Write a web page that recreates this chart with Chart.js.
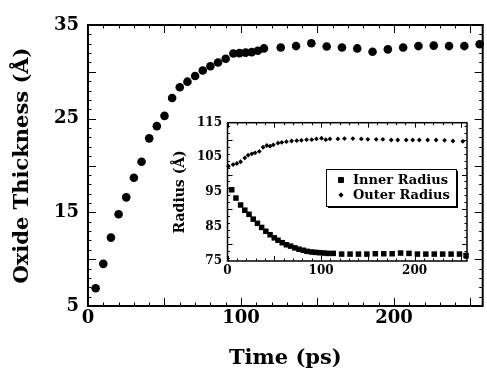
<!DOCTYPE html>
<html>
<head>
<meta charset="utf-8">
<script src="https://cdn.jsdelivr.net/npm/chart.js@4/dist/chart.umd.min.js"></script>
<style>
  body { margin: 0; background: #fff; }
  #wrap { position: relative; width: 487px; height: 371px; }
  #main { position: absolute; left: 0; top: 0; }
  #inset { position: absolute; left: 160px; top: 110px; }
</style>
</head>
<body>
<div id="wrap">
  <canvas id="main" width="487" height="371"></canvas>
  <canvas id="inset" width="315" height="175"></canvas>
</div>
<script>
// main panel: oxide thickness vs time
const thickTime = [5, 10, 15, 20, 25, 30, 35, 40, 45, 50, 55, 60, 65, 70, 75, 80, 85, 90, 95, 99, 103, 107, 111, 115,
    126, 136, 146, 156, 166, 176, 186, 196, 206, 216, 226, 236, 246, 256];
const thickness = [6.9, 9.5, 12.3, 14.8, 16.6, 18.7, 20.4, 22.9, 24.2, 25.3, 27.2, 28.35, 28.95, 29.55, 30.15, 30.6, 31.0, 31.4, 31.95, 32.0, 32.05, 32.1, 32.25, 32.5,
    32.6, 32.75, 33.05, 32.7, 32.6, 32.5, 32.15, 32.4, 32.6, 32.75, 32.8, 32.75, 32.75, 32.95];

// inset: inner and outer radius vs time
const innerTime = [4.5, 9, 14, 18.5, 23, 27.5, 32, 36.5, 41, 45.5, 50, 54, 58.5, 63, 67.5, 72, 76.5, 81, 85, 90, 94, 98.5, 103, 107.5, 113,
    122, 131, 140, 149, 158, 167, 176, 185, 194, 203, 212, 221, 230, 239, 248, 255];
const innerRadius = [95.6, 93.2, 91.2, 89.7, 88.5, 87.1, 85.9, 84.7, 83.6, 82.6, 81.7, 81.0, 80.3, 79.7, 79.3, 78.8, 78.4, 78.1, 77.8, 77.6, 77.5, 77.4, 77.3, 77.2, 77.2,
    77.0, 77.0, 77.0, 77.0, 77.1, 77.1, 77.1, 77.3, 77.2, 77.0, 77.0, 77.0, 77.0, 77.0, 77.0, 76.6];
const outerTime = [1, 6, 10, 14, 18.5, 22, 26, 29.5, 34, 38, 42, 45.5, 49, 54, 58, 63, 68.5, 74, 79, 84.5, 90, 95, 100.5, 105, 109.5,
    118, 125, 134, 143, 150, 159, 166, 175, 182, 191, 198, 205, 214, 223, 232, 241, 251.5];
const outerRadius = [102.4, 102.9, 103.2, 103.7, 104.8, 105.6, 106.0, 106.3, 106.7, 107.9, 108.4, 108.2, 108.6, 109.1, 109.3, 109.5, 109.7, 109.8, 109.9, 110.1, 110.1, 110.3, 110.5, 110.1, 110.3,
    110.3, 110.4, 110.4, 110.3, 110.2, 110.2, 110.2, 110.0, 110.0, 110.0, 110.0, 110.0, 110.0, 110.0, 109.9, 109.7, 109.6];
const seriesNames = ['Inner Radius', 'Outer Radius'];

const serif = "'DejaVu Serif', 'Liberation Serif', serif";

function toPoints(xs, ys) {
    return xs.map((x, i) => ({ x: x, y: ys[i] }));
}

// frame on all four sides with inward tick marks
const frameTicks = {
    id: 'frameTicks',
    afterDraw(chart, args, opts) {
        const { ctx, chartArea: { left, top, right, bottom }, scales: { x, y } } = chart;
        ctx.save();
        ctx.strokeStyle = '#000';
        ctx.lineWidth = 1;
        ctx.beginPath();
        for (let i = Math.ceil(x.min / opts.xMinor); i * opts.xMinor <= x.max; i++) {
            const v = i * opts.xMinor;
            const len = (v % opts.xMajor === 0) ? opts.major : opts.minor;
            const px = Math.round(x.getPixelForValue(v)) + 0.5;
            ctx.moveTo(px, bottom); ctx.lineTo(px, bottom - len);
            ctx.moveTo(px, top); ctx.lineTo(px, top + len);
        }
        for (let i = Math.ceil(y.min / opts.yMinor); i * opts.yMinor <= y.max; i++) {
            const v = i * opts.yMinor;
            const len = (v % opts.yMajor === 0) ? opts.major : opts.minor;
            const py = Math.round(y.getPixelForValue(v)) + 0.5;
            ctx.moveTo(left, py); ctx.lineTo(left + len, py);
            ctx.moveTo(right, py); ctx.lineTo(right - len, py);
        }
        ctx.stroke();
        ctx.lineWidth = opts.frameWidth;
        ctx.strokeRect(left, top, right - left, bottom - top);
        ctx.restore();
    }
};

// boxed legend inside the inset
const boxLegend = {
    id: 'boxLegend',
    afterDraw(chart, args, opts) {
        const ctx = chart.ctx;
        const { x, y, w, h } = opts;
        ctx.save();
        ctx.fillStyle = '#000';
        ctx.fillRect(x + 2, y + 2, w, h);
        ctx.fillStyle = '#fff';
        ctx.fillRect(x, y, w, h);
        ctx.strokeStyle = '#000';
        ctx.lineWidth = 1;
        ctx.strokeRect(x + 0.5, y + 0.5, w, h);
        ctx.font = 'bold 13px ' + serif;
        ctx.textBaseline = 'middle';
        chart.data.datasets.forEach((ds, i) => {
            const rowY = y + 11 + i * 15;
            ctx.fillStyle = '#000';
            Chart.helpers.drawPoint(ctx, {
                pointStyle: ds.pointStyle, radius: ds.pointRadius, rotation: 0, borderWidth: 0
            }, x + 15, rowY);
            ctx.fill();
            ctx.fillText(ds.label, x + 27, rowY + 1);
        });
        ctx.restore();
    }
};

new Chart(document.getElementById('main'), {
    type: 'scatter',
    data: {
        datasets: [{
            label: 'Oxide Thickness',
            data: toPoints(thickTime, thickness),
            pointStyle: 'circle',
            pointRadius: 4.3,
            pointBackgroundColor: '#000',
            pointBorderWidth: 0,
            clip: false
        }]
    },
    options: {
        responsive: false,
        devicePixelRatio: 1,
        animation: false,
        layout: { padding: { left: 0, top: 25, right: 4, bottom: 0 } },
        plugins: {
            legend: { display: false },
            tooltip: { enabled: false },
            frameTicks: { xMinor: 10, xMajor: 50, yMinor: 1, yMajor: 5, major: 8, minor: 3.5, frameWidth: 2 }
        },
        scales: {
            x: {
                type: 'linear',
                min: 0,
                max: 258,
                afterFit: s => { s.height = 65; },
                grid: { display: false, drawTicks: false },
                border: { display: false },
                ticks: {
                    stepSize: 100,
                    includeBounds: false,
                    padding: 2,
                    color: '#000',
                    font: { family: serif, size: 18, weight: 'bold' }
                },
                title: {
                    display: true,
                    text: 'Time (ps)',
                    color: '#000',
                    padding: { top: 0, bottom: 0 },
                    font: { family: serif, size: 21, weight: 'bold', lineHeight: 1.2 }
                }
            },
            y: {
                min: 5,
                max: 35,
                afterFit: s => { s.width = 88; },
                grid: { display: false, drawTicks: false },
                border: { display: false },
                ticks: {
                    stepSize: 10,
                    padding: 9,
                    color: '#000',
                    font: { family: serif, size: 18, weight: 'bold' }
                },
                title: {
                    display: true,
                    text: 'Oxide Thickness (Å)',
                    color: '#000',
                    padding: { top: 9.5, bottom: 0 },
                    font: { family: serif, size: 21, weight: 'bold', lineHeight: 1.2 }
                }
            }
        }
    },
    plugins: [frameTicks]
});

new Chart(document.getElementById('inset'), {
    type: 'scatter',
    data: {
        datasets: [{
            label: seriesNames[0],
            data: toPoints(innerTime, innerRadius),
            pointStyle: 'rect',
            pointRadius: 3.9,
            pointBackgroundColor: '#000',
            pointBorderWidth: 0,
            clip: false
        }, {
            label: seriesNames[1],
            data: toPoints(outerTime, outerRadius),
            pointStyle: 'rectRot',
            pointRadius: 2.4,
            pointBackgroundColor: '#000',
            pointBorderWidth: 0,
            clip: false
        }]
    },
    options: {
        responsive: false,
        devicePixelRatio: 1,
        animation: false,
        layout: { padding: { left: 0, top: 10, right: 8, bottom: 0 } },
        plugins: {
            legend: { display: false },
            tooltip: { enabled: false },
            frameTicks: { xMinor: 10, xMajor: 50, yMinor: 2, yMajor: 10, major: 5, minor: 2.5, frameWidth: 1.5 },
            boxLegend: { x: 166, y: 59, w: 130, h: 37 }
        },
        scales: {
            x: {
                type: 'linear',
                min: 0,
                max: 256,
                afterFit: s => { s.height = 24; },
                grid: { display: false, drawTicks: false },
                border: { display: false },
                ticks: {
                    stepSize: 100,
                    includeBounds: false,
                    padding: 2.3,
                    color: '#000',
                    font: { family: serif, size: 12, weight: 'bold' }
                }
            },
            y: {
                min: 75,
                max: 115,
                afterFit: s => { s.width = 67.5; },
                grid: { display: false, drawTicks: false },
                border: { display: false },
                ticks: {
                    stepSize: 10,
                    padding: 5.5,
                    color: '#000',
                    font: { family: serif, size: 12, weight: 'bold' }
                },
                title: {
                    display: true,
                    text: 'Radius (Å)',
                    color: '#000',
                    padding: { top: 11.6, bottom: 0 },
                    font: { family: serif, size: 14, weight: 'bold', lineHeight: 1.2 }
                }
            }
        }
    },
    plugins: [frameTicks, boxLegend]
});
</script>
</body>
</html>
